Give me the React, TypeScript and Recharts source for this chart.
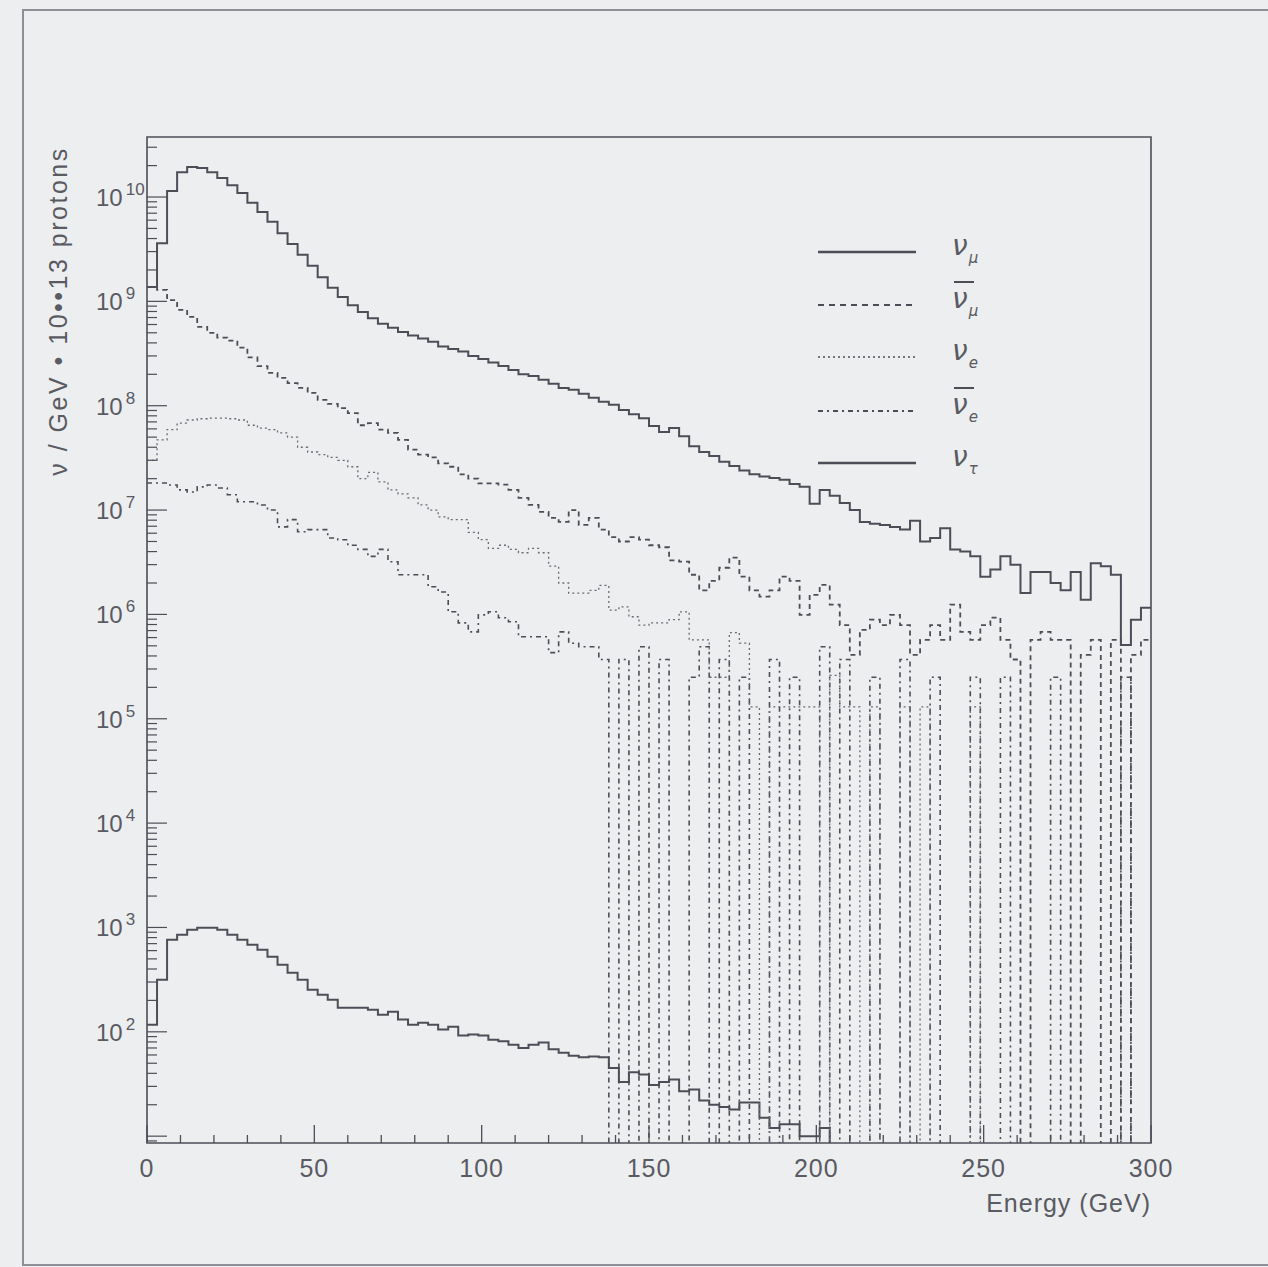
import React from 'react';
import { ComposedChart, Line, XAxis, YAxis, ReferenceArea, Legend } from 'recharts';

// bin lower edges, 3 GeV wide, 0..297
const BIN_WIDTH = 3;
const binStarts = Array.from({ length: 100 }, (_, i) => i * BIN_WIDTH);

// nu_mu (solid, top)
const numu = [
    1.37e9, 3.6e9, 1.14e10, 1.73e10, 1.94e10, 1.9e10, 1.73e10, 1.52e10, 1.3e10, 1.09e10,
    8.8e9, 7.2e9, 5.8e9, 4.5e9, 3.55e9, 2.8e9, 2.2e9, 1.7e9, 1.35e9, 1.1e9,
    9.2e8, 7.9e8, 6.9e8, 6.1e8, 5.6e8, 5.1e8, 4.7e8, 4.4e8, 4.1e8, 3.7e8,
    3.5e8, 3.3e8, 3.0e8, 2.8e8, 2.6e8, 2.4e8, 2.2e8, 2.0e8, 1.93e8, 1.77e8,
    1.62e8, 1.48e8, 1.42e8, 1.3e8, 1.19e8, 1.09e8, 1.02e8, 9.1e7, 8.3e7, 7.6e7,
    6.4e7, 5.6e7, 6.1e7, 5.1e7, 4.1e7, 3.6e7, 3.3e7, 2.9e7, 2.65e7, 2.4e7,
    2.2e7, 2.1e7, 2.03e7, 1.95e7, 1.78e7, 1.67e7, 1.15e7, 1.56e7, 1.37e7, 1.17e7,
    1.0e7, 7.7e6, 7.4e6, 7.2e6, 6.9e6, 6.5e6, 7.9e6, 5.0e6, 5.4e6, 6.7e6,
    4.2e6, 4.0e6, 3.6e6, 2.3e6, 2.7e6, 3.6e6, 3.0e6, 1.6e6, 2.55e6, 2.55e6,
    2.0e6, 1.7e6, 2.55e6, 1.38e6, 3.1e6, 2.9e6, 2.4e6, 5.1e5, 8.9e5, 1.16e6,
];

// anti nu_mu (dashed)
const anumu = [
    1.37e9, 1.29e9, 1.03e9, 8.3e8, 7.1e8, 5.7e8, 5.0e8, 4.5e8, 4.2e8, 3.6e8,
    2.9e8, 2.4e8, 2.06e8, 1.85e8, 1.65e8, 1.48e8, 1.33e8, 1.14e8, 1.04e8, 9.5e7,
    8.5e7, 6.5e7, 6.8e7, 5.9e7, 5.5e7, 4.7e7, 3.8e7, 3.4e7, 3.2e7, 2.8e7,
    2.6e7, 2.2e7, 2.0e7, 1.8e7, 1.8e7, 1.75e7, 1.56e7, 1.31e7, 1.12e7, 9.6e6,
    8.4e6, 7.7e6, 1.0e7, 7.2e6, 8.4e6, 6.5e6, 5.5e6, 5.0e6, 5.5e6, 5.2e6,
    4.6e6, 4.4e6, 3.3e6, 3.2e6, 2.4e6, 1.7e6, 2.1e6, 2.8e6, 3.5e6, 2.3e6,
    1.7e6, 1.48e6, 1.7e6, 2.3e6, 2.1e6, 9.9e5, 1.54e6, 1.92e6, 1.24e6, 7.9e5,
    4.1e5, 7.1e5, 8.9e5, 7.9e5, 9.9e5, 7.9e5, 4.1e5, 5.7e5, 7.9e5, 5.7e5,
    1.24e6, 6.8e5, 5.7e5, 7.9e5, 9.3e5, 5.7e5, 3.7e5, 0, 5.7e5, 6.8e5,
    5.7e5, 5.7e5, 0, 4.1e5, 5.7e5, 0, 5.7e5, 0, 4.1e5, 5.7e5,
];

// nu_e (dotted)
const nue = [
    3.0e7, 4.7e7, 5.9e7, 6.8e7, 7.3e7, 7.5e7, 7.6e7, 7.6e7, 7.5e7, 7.3e7,
    6.5e7, 6.1e7, 5.9e7, 5.5e7, 5.0e7, 4.0e7, 3.6e7, 3.4e7, 3.2e7, 3.0e7,
    2.6e7, 2.0e7, 2.3e7, 1.86e7, 1.56e7, 1.43e7, 1.31e7, 1.12e7, 1.0e7, 8.6e6,
    8.1e6, 8.1e6, 6.1e6, 5.2e6, 4.3e6, 4.6e6, 4.2e6, 3.9e6, 4.3e6, 3.9e6,
    2.9e6, 2.0e6, 1.6e6, 1.6e6, 1.7e6, 1.9e6, 1.1e6, 1.18e6, 9.5e5, 7.9e5,
    8.3e5, 8.3e5, 8.9e5, 1.06e6, 5.7e5, 5.7e5, 2.5e5, 2.5e5, 6.7e5, 5.3e5,
    1.3e5, 0, 1.3e5, 1.3e5, 1.3e5, 1.3e5, 1.3e5, 0, 2.6e5, 1.3e5,
    1.3e5, 0, 1.3e5, 0, 0, 1.3e5, 0, 1.3e5, 0, 0,
    0, 0, 1.3e5, 0, 0, 0, 0, 0, 0, 0,
    0, 0, 0, 0, 0, 0, 0, 0, 0, 0,
];

// anti nu_e (dash-dot)
const anue = [
    1.82e7, 1.82e7, 1.74e7, 1.56e7, 1.49e7, 1.67e7, 1.74e7, 1.63e7, 1.4e7, 1.2e7,
    1.2e7, 1.12e7, 1.0e7, 6.9e6, 8.1e6, 6.2e6, 6.5e6, 6.5e6, 5.4e6, 5.2e6,
    4.6e6, 4.2e6, 3.6e6, 4.2e6, 3.2e6, 2.4e6, 2.4e6, 2.4e6, 1.84e6, 1.64e6,
    1.06e6, 8.3e5, 6.8e5, 9.9e5, 1.06e6, 9.3e5, 8.5e5, 6.1e5, 6.1e5, 6.1e5,
    4.3e5, 6.8e5, 5.3e5, 4.9e5, 4.9e5, 3.7e5, 0, 3.7e5, 0, 4.9e5,
    0, 3.7e5, 0, 0, 2.5e5, 4.9e5, 0, 3.7e5, 0, 2.5e5,
    0, 0, 3.7e5, 0, 2.5e5, 0, 0, 4.9e5, 0, 3.7e5,
    0, 0, 2.5e5, 0, 0, 3.7e5, 0, 0, 2.5e5, 0,
    0, 0, 2.5e5, 0, 0, 2.5e5, 0, 0, 0, 0,
    2.5e5, 0, 0, 0, 0, 0, 0, 2.5e5, 0, 0,
];

// nu_tau (solid, bottom)
const nutau = [
    117, 316, 764, 853, 953, 996, 996, 953, 853, 764,
    684, 613, 525, 440, 369, 316, 253, 227, 203, 170,
    170, 170, 163, 146, 156, 131, 117, 122, 117, 105,
    112, 92, 94, 92, 84, 81, 75, 70, 75, 79,
    68, 63, 59, 57, 58, 57, 45, 33, 41, 39,
    31, 33, 35, 27, 28, 22, 20, 19, 18, 21,
    21, 15, 12, 13, 13, 10, 10, 12, 0, 0,
    0, 0, 0, 0, 0, 0, 0, 0, 0, 0,
    0, 0, 0, 0, 0, 0, 0, 0, 0, 0,
    0, 0, 0, 0, 0, 0, 0, 0, 0, 0,
];

const Y_MIN = 8.6;
const Y_MAX = 3.76e10;
const X_MAX = 300;

const xTicks = Array.from({ length: 31 }, (_, i) => i * 10);
const decades = [1, 2, 3, 4, 5, 6, 7, 8, 9, 10];
const mantissas = [1, 2, 3, 4, 5, 6, 7, 8, 9];
const yTicks = [9, ...decades.flatMap((e) => mantissas.map((m) => m * Math.pow(10, e)))].filter(
    (v) => v >= Y_MIN && v <= Y_MAX
);

const INK = '#4d4d57';
const TEXT = '#5a5a62';
const FONT = '"Liberation Sans", Arial, sans-serif';

// empty bins fall to the bottom of the frame (log of 0), so park them below the axis
const floorZero = (v: number) => (v > 0 ? v : 1);

const rows = [...binStarts, X_MAX].map((x, i) => {
    const k = Math.min(i, binStarts.length - 1);
    return {
        x,
        numu: floorZero(numu[k]),
        anumu: floorZero(anumu[k]),
        nue: floorZero(nue[k]),
        anue: floorZero(anue[k]),
        nutau: floorZero(nutau[k]),
    };
});

const legendItems = [
    { key: 'numu', sub: 'μ', anti: false, dash: undefined, width: 2.6 },
    { key: 'anumu', sub: 'μ', anti: true, dash: '6 5', width: 2.2 },
    { key: 'nue', sub: 'e', anti: false, dash: '2 3', width: 1.4 },
    { key: 'anue', sub: 'e', anti: true, dash: '5 4 2 4', width: 1.8 },
    { key: 'nutau', sub: 'τ', anti: false, dash: undefined, width: 2.6 },
];

const XTick = (props: any) => {
    const { x, y, payload } = props;
    const v = payload.value;
    const major = v % 50 === 0;
    return (
        <g>
            <line x1={x} y1={y} x2={x} y2={y - (major ? 18 : 8)} stroke={INK} strokeWidth={1.3} />
            {major && (
                <text x={x} y={y + 34} textAnchor="middle" fontSize={25} letterSpacing={1} fill={TEXT} fontFamily={FONT}>
                    {v}
                </text>
            )}
        </g>
    );
};

const YTick = (props: any) => {
    const { x, y, payload } = props;
    const lg = Math.log10(payload.value);
    const exp = Math.round(lg);
    const major = Math.abs(lg - exp) < 1e-9;
    return (
        <g>
            <line x1={x} y1={y} x2={x + (major ? 20 : 10)} y2={y} stroke={INK} strokeWidth={1.2} />
            {major && exp >= 2 && (
                <text x={x - 51} y={y + 9} fontSize={24} fill={TEXT} fontFamily={FONT}>
                    10
                    <tspan dx={3} dy={-11} fontSize={17}>
                        {exp}
                    </tspan>
                </text>
            )}
        </g>
    );
};

const LegendBox = () => {
    const rowY = [27, 80, 132, 186, 238];
    return (
        <svg width={200} height={270}>
            {legendItems.map((it, i) => (
                <g key={it.key}>
                    <line x1={8} y1={rowY[i]} x2={106} y2={rowY[i]} stroke={INK} strokeWidth={it.width} strokeDasharray={it.dash} />
                    {it.anti && <line x1={144} y1={rowY[i] - 23} x2={164} y2={rowY[i] - 23} stroke={INK} strokeWidth={2} />}
                    <text x={142} y={rowY[i] + 3} fontSize={28} fontStyle="italic" fill={TEXT} fontFamily='"DejaVu Sans", sans-serif'>
                        ν
                        <tspan dx={1} dy={8} fontSize={15}>
                            {it.sub}
                        </tspan>
                    </text>
                </g>
            ))}
        </svg>
    );
};

const App: React.FC = () => {
    return (
        <div style={{ position: 'absolute', left: 0, top: 0, width: 1268, height: 1267, background: '#eceef0', overflow: 'hidden' }}>
            <div
                style={{
                    position: 'absolute',
                    left: 22,
                    top: 9,
                    width: 1300,
                    height: 1253,
                    borderLeft: '2px solid #8e8e96',
                    borderTop: '2px solid #8e8e96',
                    borderBottom: '2px solid #8e8e96',
                }}
            />
            <ComposedChart width={1268} height={1267} data={rows} margin={{ top: 137, right: 117, bottom: 123, left: 146 }}>
                <XAxis
                    type="number"
                    dataKey="x"
                    domain={[0, X_MAX]}
                    ticks={xTicks}
                    interval={0}
                    tick={(p: any) => <XTick {...p} />}
                    tickLine={false}
                    tickSize={0}
                    tickMargin={0}
                    axisLine={false}
                    height={1}
                    allowDataOverflow
                />
                <YAxis
                    type="number"
                    scale="log"
                    domain={[Y_MIN, Y_MAX]}
                    ticks={yTicks}
                    interval={0}
                    tick={(p: any) => <YTick {...p} />}
                    tickLine={false}
                    tickSize={0}
                    tickMargin={0}
                    axisLine={false}
                    width={1}
                    allowDataOverflow
                />
                <ReferenceArea x1={0} x2={X_MAX} y1={Y_MIN} y2={Y_MAX} fill="none" stroke={INK} strokeWidth={1.6} />
                <Line type="stepAfter" dataKey="nutau" stroke={INK} strokeWidth={2} dot={false} activeDot={false} isAnimationActive={false} />
                <Line type="stepAfter" dataKey="anue" stroke={INK} strokeWidth={1.6} strokeDasharray="5 4 2 4" dot={false} activeDot={false} isAnimationActive={false} />
                <Line type="stepAfter" dataKey="nue" stroke="#6a6a74" strokeWidth={1.3} strokeDasharray="2 3" dot={false} activeDot={false} isAnimationActive={false} />
                <Line type="stepAfter" dataKey="anumu" stroke={INK} strokeWidth={1.8} strokeDasharray="5 4" dot={false} activeDot={false} isAnimationActive={false} />
                <Line type="stepAfter" dataKey="numu" stroke={INK} strokeWidth={2} dot={false} activeDot={false} isAnimationActive={false} />
                <Legend
                    layout="vertical"
                    align="center"
                    verticalAlign="middle"
                    content={() => <LegendBox />}
                    wrapperStyle={{ left: 810, top: 225, width: 200, height: 270 }}
                />
            </ComposedChart>
            <svg width={1268} height={1267} style={{ position: 'absolute', left: 0, top: 0, pointerEvents: 'none' }}>
                <text
                    transform="translate(67, 311) rotate(-90)"
                    textAnchor="middle"
                    fontSize={25}
                    fill={TEXT}
                    fontFamily={FONT}
                    letterSpacing={2.5}
                >
                    ν / GeV • 10••13 protons
                </text>
                <text x={1151} y={1212} textAnchor="end" fontSize={25} letterSpacing={1} fill={TEXT} fontFamily={FONT}>
                    Energy (GeV)
                </text>
            </svg>
        </div>
    );
};

export default App;
